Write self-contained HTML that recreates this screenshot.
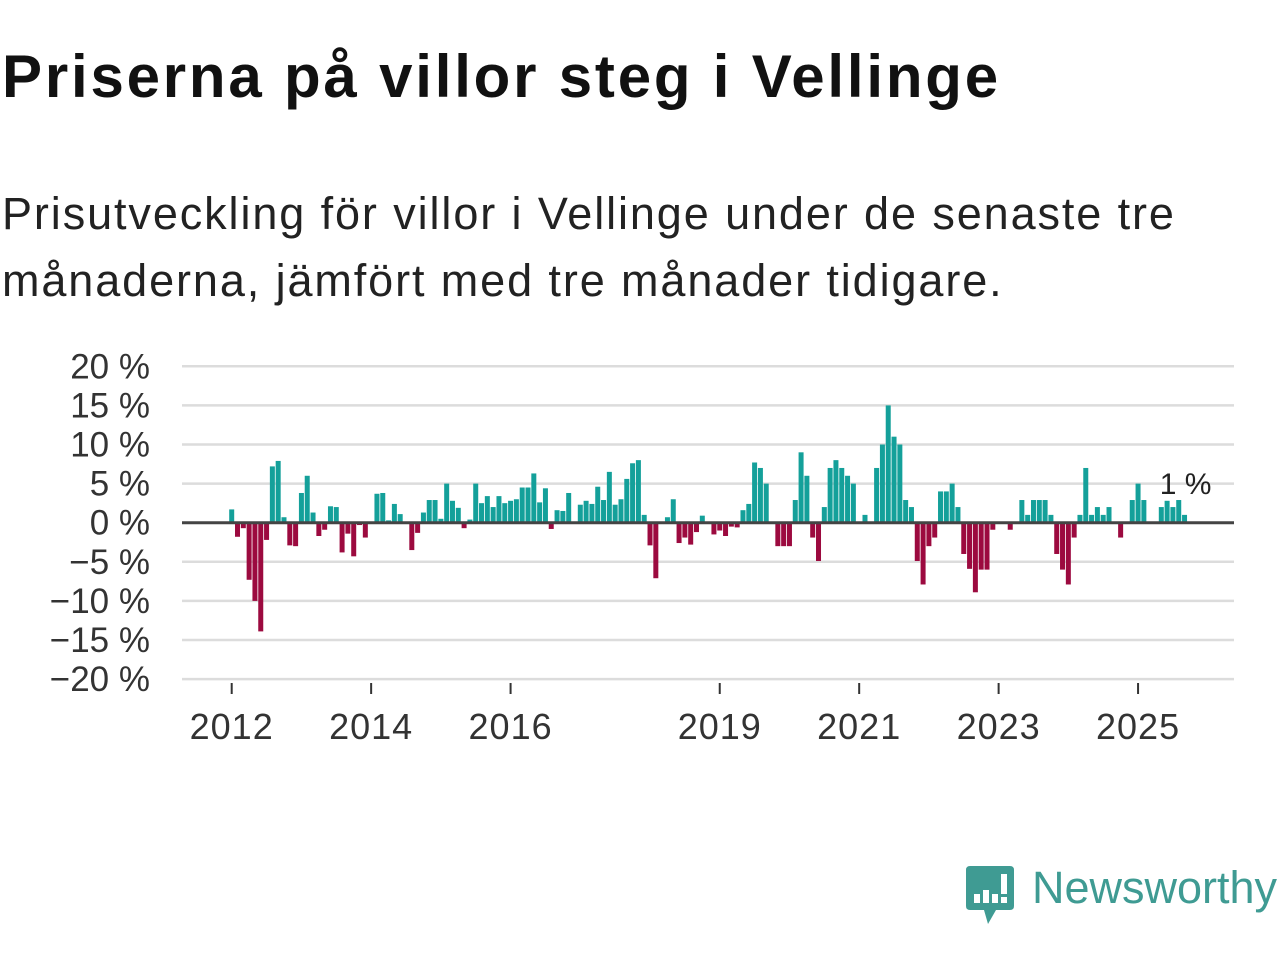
<!DOCTYPE html>
<html><head><meta charset="utf-8">
<style>
body{margin:0;background:#fff;width:1280px;height:960px;overflow:hidden;font-family:"Liberation Sans","DejaVu Sans",sans-serif;}
h1{position:absolute;left:2px;top:42px;margin:0;font-size:60px;font-weight:bold;color:#111;letter-spacing:2.8px;white-space:nowrap}
.sub{position:absolute;left:2px;top:180px;margin:0;font-size:45px;letter-spacing:1.9px;line-height:67px;color:#222;width:1200px}
svg{position:absolute;left:0;top:0}
</style></head><body>
<h1>Priserna på villor steg i Vellinge</h1>
<p class="sub">Prisutveckling för villor i Vellinge under de senaste tre månaderna, jämfört med tre månader tidigare.</p>
<svg id="chart" width="1280" height="960"></svg>
<div style="position:absolute;left:966px;top:866px;">
<svg width="50" height="60" style="position:absolute;left:0;top:0">
<path d="M4 0 H44 Q48 0 48 4 V40 Q48 44 44 44 H30 L22 58 L18 44 H4 Q0 44 0 40 V4 Q0 0 4 0Z" fill="#3f9b93"/>
<rect x="8" y="28" width="6" height="9" fill="#fff"/><rect x="17" y="24" width="6" height="13" fill="#fff"/><rect x="26" y="28" width="6" height="9" fill="#fff"/><rect x="35" y="8" width="6" height="20" fill="#fff"/><rect x="35" y="31" width="6" height="6" fill="#fff"/>
</svg>
<div style="position:absolute;left:66px;top:-4px;font-size:45px;color:#3f9b93;white-space:nowrap">Newsworthy</div>
</div>
<script>
const values=[1.7,-1.8,-0.7,-7.3,-10,-13.9,-2.2,7.2,7.9,0.7,-2.9,-3,3.8,6,1.3,-1.7,-0.9,2.1,2.0,-3.8,-1.4,-4.3,-0.3,-1.9,0,
3.7,3.8,0.3,2.4,1.1,0,-3.5,-1.3,1.3,2.9,2.9,0.5,5,2.8,1.9,-0.7,0.4,
5.0,2.5,3.4,2.0,3.4,2.5,2.8,3.0,4.5,4.5,6.3,2.6,4.4,-0.8,1.6,1.5,3.8,0,2.3,2.8,2.4,4.6,2.9,6.5,2.3,3.0,5.6,7.6,8.0,1.0,-2.9,-7.1,0,0.7,3.0,-2.6,-1.9,-2.8,-1.2,0.9,0,-1.5,-1.0,-1.7,
-0.5,-0.6,1.6,2.4,7.7,7.0,5.0,0,-3.0,-3.0,-3.0,2.9,9.0,6.0,-1.9,-4.9,2.0,7.0,8.0,7.0,6.0,5.0,0,1.0,0,7.0,10.0,15.0,11.0,10.0,2.9,2.0,-4.9,-7.9,-3.0,-1.9,4.0,4.0,5.0,2.0,-4.0,-5.9,-8.9,
-6.0,-6.0,-0.9,0,0,-0.9,0,2.9,1.0,2.9,2.9,2.9,1.0,-4.0,-6.0,-7.9,-1.9,1.0,7.0,1.0,2.0,1.0,2.0,0,-1.9,0,2.9,5.0,2.9,0,0,2.0,2.8,2.0,2.9,1.0];
const yTicks=[20,15,10,5,0,-5,-10,-15,-20];
const yearTicks=[2012,2014,2016,2019,2021,2023,2025];
const startYear=2012;
const lastLabel="1 %";
const NS="http://www.w3.org/2000/svg";
const svg=document.getElementById('chart');
const x0=182,x1=1234;
function xScale(m){return 231.7+m*5.81;}
function yScale(v){return 522.7-v*7.82;}
function mk(t,a){const e=document.createElementNS(NS,t);for(const k in a)e.setAttribute(k,a[k]);svg.appendChild(e);return e;}
yTicks.forEach(v=>{
 const g=mk('line',{x1:x0,x2:x1,y1:yScale(v),y2:yScale(v),stroke:'#dcdcdc','stroke-width':2.5});
 
 
 const t=mk('text',{x:150,y:yScale(v)+12,'text-anchor':'end','font-size':35,fill:'#333','font-family':'Liberation Sans, sans-serif'});
 t.textContent=(v<0?'\u2212'+(-v):v)+' %';
 
 
});
yearTicks.forEach(y=>{
 const xx=xScale((y-startYear)*12);
 const l=mk('line',{x1:xx,x2:xx,y1:683,y2:694,stroke:'#333','stroke-width':2});
 
 
 const t=mk('text',{x:xx,y:739,'text-anchor':'middle','font-size':36,'letter-spacing':1,fill:'#333','font-family':'Liberation Sans, sans-serif'});
 t.textContent=y;
 
 
});
values.forEach((v,i)=>{
 if(v===0)return;
 const xx=xScale(i);
 const r=mk('rect',{x:xx-2.5,width:5,y:Math.min(yScale(v),yScale(0)),height:Math.abs(yScale(v)-yScale(0)),fill:v>0?'#14a09a':'#9c0a3f'});
 
 
});
const z=mk('line',{x1:x0,x2:x1,y1:yScale(0),y2:yScale(0),stroke:'#444','stroke-width':3});


const lastI=values.length-1;
const lb=mk('text',{x:xScale(lastI)+1,y:494,'text-anchor':'middle','font-size':30,fill:'#222','font-family':'Liberation Sans, sans-serif'});
lb.textContent=lastLabel;


</script>
</body></html>
